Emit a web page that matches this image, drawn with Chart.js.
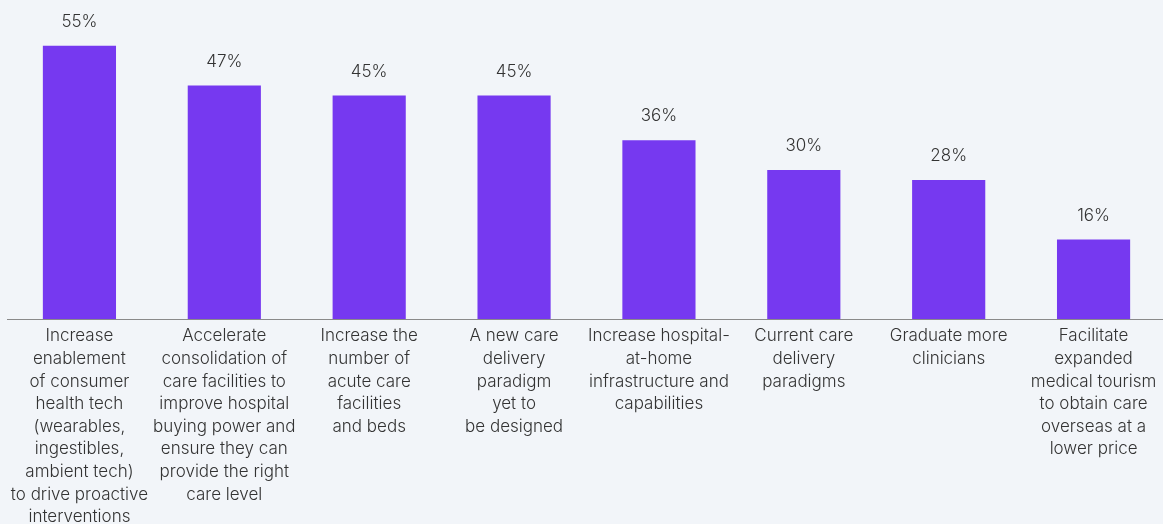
<!DOCTYPE html>
<html>
<head>
<meta charset="utf-8">
<script src="https://cdn.jsdelivr.net/npm/chart.js@4/dist/chart.umd.min.js"></script>
<style>
  html, body { margin: 0; padding: 0; background: #f2f5f9; overflow: hidden; }
  #wrap { width: 1166px; height: 524px; }
</style>
</head>
<body>
<div id="wrap"><canvas id="careChart" width="1166" height="524"></canvas></div>
<script>
const categories = [
    ['Increase', 'enablement', 'of consumer', 'health tech', '(wearables,', 'ingestibles,', 'ambient tech)', 'to drive proactive', 'interventions'],
    ['Accelerate', 'consolidation of', 'care facilities to', 'improve hospital', 'buying power and', 'ensure they can', 'provide the right', 'care level'],
    ['Increase the', 'number of', 'acute care', 'facilities', 'and beds'],
    ['A new care', 'delivery', 'paradigm', 'yet to', 'be designed'],
    ['Increase hospital-', 'at-home', 'infrastructure and', 'capabilities'],
    ['Current care', 'delivery', 'paradigms'],
    ['Graduate more', 'clinicians'],
    ['Facilitate', 'expanded', 'medical tourism', 'to obtain care', 'overseas at a', 'lower price']
];
const shares = [55, 47, 45, 45, 36, 30, 28, 16];

const barColor = '#7639f0';
const textColor = '#333333';

// writes the percentage above each bar
const valueLabels = {
    id: 'valueLabels',
    afterDatasetsDraw(chart) {
        const ctx = chart.ctx;
        const meta = chart.getDatasetMeta(0);
        ctx.save();
        ctx.font = '300 17px Inter';
        ctx.fillStyle = textColor;
        ctx.textAlign = 'center';
        ctx.textBaseline = 'middle';
        meta.data.forEach((bar, i) => {
            ctx.fillText(shares[i] + '%', bar.x, bar.y - 24);
        });
        ctx.restore();
    }
};

const careChartCtx = document.getElementById('careChart');

new Chart(careChartCtx, {
    type: 'bar',
    data: {
        labels: categories,
        datasets: [{
            data: shares,
            backgroundColor: barColor,
            borderWidth: 0,
            categoryPercentage: 1,
            barPercentage: 0.505
        }]
    },
    options: {
        responsive: false,
        animation: false,
        layout: {
            padding: { top: 21, left: 7, right: 0, bottom: 0 }
        },
        plugins: {
            legend: { display: false },
            tooltip: { enabled: false }
        },
        scales: {
            x: {
                grid: { display: false, drawTicks: false },
                border: { display: true, color: '#8a8a8a', width: 1 },
                ticks: {
                    color: textColor,
                    font: { family: 'Inter', size: 17, weight: 300, lineHeight: 1.33 },
                    padding: 6,
                    maxRotation: 0,
                    autoSkip: false
                },
                afterFit(scale) {
                    scale.height = 205;
                }
            },
            y: {
                display: false,
                min: 0,
                max: 60
            }
        }
    },
    plugins: [valueLabels]
});
</script>
</body>
</html>
